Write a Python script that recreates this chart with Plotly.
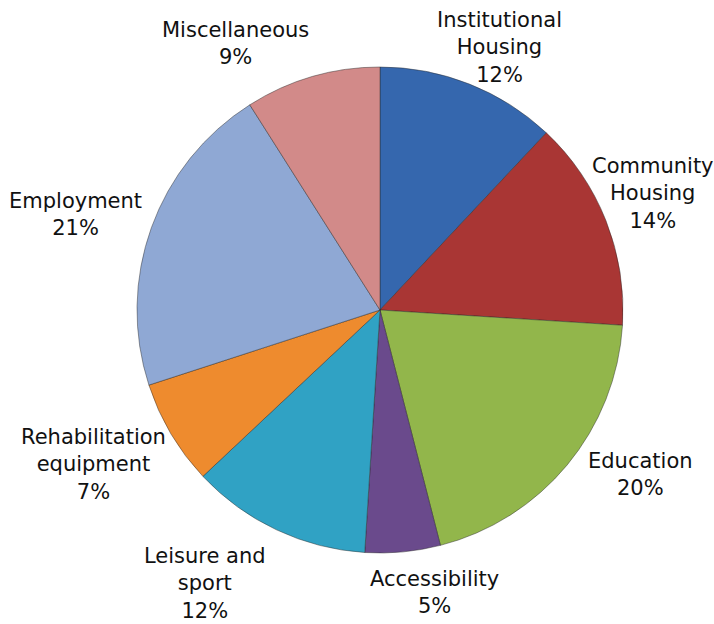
import plotly.graph_objects as go

# Share of funding by area
categories = [
    "Institutional\nHousing",
    "Community\nHousing",
    "Education",
    "Accessibility",
    "Leisure and\nsport",
    "Rehabilitation\nequipment",
    "Employment",
    "Miscellaneous",
]
shares = [12, 14, 20, 5, 12, 7, 21, 9]

colors = ["#3567AE", "#A93634", "#92B64B", "#6A4A8C",
          "#30A2C4", "#EE8B2E", "#8FA8D4", "#D28A89"]

W, H = 714, 624
# label anchor points (pixel centres) for each slice label
label_pos = [(500, 48), (653, 193), (640, 474), (435, 592),
             (205, 583), (93, 464), (75, 214), (235, 44)]

fig = go.Figure(go.Pie(
    labels=[c.replace("\n", " ") for c in categories],
    values=shares,
    sort=False,
    direction="clockwise",
    rotation=0,
    marker=dict(colors=colors, line=dict(color="rgba(40,40,40,0.45)", width=1)),
    textinfo="none",
    hoverinfo="label+percent",
    domain=dict(x=[137 / W, 623 / W], y=[1 - 553 / H, 1 - 67 / H]),
    showlegend=False,
))

for cat, val, (px, py) in zip(categories, shares, label_pos):
    fig.add_annotation(
        x=px / W, y=1 - py / H, xref="paper", yref="paper",
        text=cat.replace("\n", "<br>") + f"<br>{val}%",
        showarrow=False, xanchor="center", yanchor="middle",
        font=dict(family="DejaVu Sans", size=21, color="#111111"),
    )

fig.update_layout(
    width=W, height=H,
    margin=dict(l=0, r=0, t=0, b=0),
    paper_bgcolor="white",
    plot_bgcolor="white",
)

fig.write_html("out.html")
